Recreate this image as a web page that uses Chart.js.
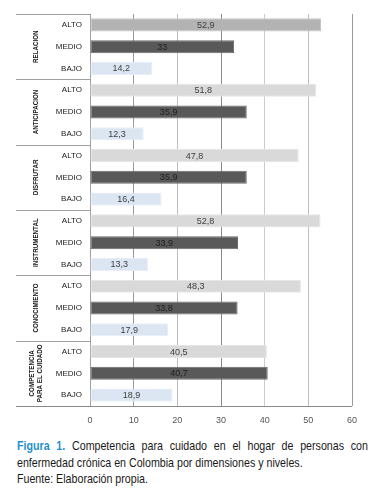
<!DOCTYPE html>
<html>
<head>
<meta charset="utf-8">
<script src="https://cdn.jsdelivr.net/npm/chart.js@4.4.1/dist/chart.umd.min.js"></script>
<style>
  html, body { margin: 0; padding: 0; background: #ffffff; }
  body { width: 371px; height: 502px; position: relative; overflow: hidden; }
  #wrap { position: absolute; left: 0; top: 0; width: 371px; height: 432px; }
  #caption {
    position: absolute; left: 17px; top: 438px; width: 428px;
    transform: scaleX(0.82); transform-origin: 0 0;
    font-family: "Liberation Sans", Arial, sans-serif;
    font-size: 13px; line-height: 16.5px; color: #1a1a1a; white-space: nowrap;
  }
  #caption .l1 { text-align: justify; text-align-last: justify; white-space: normal; }
  #caption b { color: #1f8fd0; }
</style>
</head>
<body>
<div id="wrap"><canvas id="c" width="371" height="432"></canvas></div>
<div id="caption">
  <div class="l1"><b>Figura 1.</b> Competencia para cuidado en el hogar de personas con</div>
  <div>enfermedad crónica en Colombia por dimensiones y niveles.</div>
  <div>Fuente: Elaboración propia.</div>
</div>
<script>
// ---- data ----
const groups = ["RELACION", "ANTICIPACION", "DISFRUTAR", "INSTRUMENTAL", "CONOCIMIENTO", ["COMPETENCIA", "PARA EL CUIDADO"]];
const levels = ["ALTO", "MEDIO", "BAJO"];
const altoValues  = [52.9, 51.8, 47.8, 52.8, 48.3, 40.5];
const medioValues = [33, 35.9, 35.9, 33.9, 33.8, 40.7];
const bajoValues  = [14.2, 12.3, 16.4, 13.3, 17.9, 18.9];
const xTicks = [0, 10, 20, 30, 40, 50, 60];

// ---- build flat structure ----
const labels = [], values = [], levelIdx = [], groupIdx = [];
groups.forEach((g, gi) => {
  const vals = [altoValues[gi], medioValues[gi], bajoValues[gi]];
  levels.forEach((lv, li) => {
    labels.push(lv); values.push(vals[li]); levelIdx.push(li); groupIdx.push(gi);
  });
});
const barColors = values.map((v, i) => {
  if (levelIdx[i] === 0) return groupIdx[i] === 0 ? '#b3b3b3' : '#d9d9d9';
  if (levelIdx[i] === 1) return '#595959';
  return '#dce6f2';
});
const borderColors = values.map((v, i) => {
  if (levelIdx[i] === 0) return groupIdx[i] === 0 ? '#c4c4c4' : '#e6e6e6';
  if (levelIdx[i] === 1) return '#6a6a6a';
  return '#e8eef7';
});
const gridColors = { 0: 'rgba(0,0,0,0)', 10: '#9a9a9a', 20: '#bdbdbd', 30: '#8a8a8a', 40: '#cccccc', 50: '#bdbdbd', 60: '#9a9a9a' };

const decor = {
  id: 'decor',
  afterDatasetsDraw(chart) {
    const ctx = chart.ctx;
    const meta = chart.getDatasetMeta(0);
    ctx.save();
    ctx.font = '9px "Liberation Sans", "DejaVu Sans", sans-serif';
    ctx.textAlign = 'center';
    ctx.textBaseline = 'middle';
    meta.data.forEach((el, i) => {
      const cx = (el.x + el.base) / 2;
      ctx.fillStyle = levelIdx[i] === 1 ? '#1e1e1e' : '#404040';
      ctx.fillText(String(values[i]).replace('.', ','), cx, el.y + 0.5);
    });
    ctx.restore();
  },
  afterDraw(chart) {
    const ctx = chart.ctx;
    const y = chart.scales.y;
    const area = chart.chartArea;
    const n = labels.length;
    const step = (y.getPixelForValue(1) - y.getPixelForValue(0));
    ctx.save();
    ctx.strokeStyle = '#a0a0a0';
    ctx.lineWidth = 1;
    for (let g = 0; g <= groups.length; g++) {
      const idx = g * 3;
      const py = Math.round(y.getPixelForValue(Math.min(idx, n - 1)) + (idx >= n ? step / 2 : -step / 2)) + 0.5;
      ctx.beginPath();
      ctx.moveTo(16, py);
      ctx.lineTo(area.left, py);
      ctx.stroke();
    }
    ctx.strokeStyle = '#8a8a8a';
    ctx.beginPath();
    ctx.moveTo(16, Math.round(area.bottom) + 0.5);
    ctx.lineTo(area.right, Math.round(area.bottom) + 0.5);
    ctx.stroke();
    // group labels
    ctx.fillStyle = '#1a1a1a';
    ctx.font = 'bold 8px "Liberation Sans", Arial, sans-serif';
    ctx.textAlign = 'center';
    ctx.textBaseline = 'middle';
    groups.forEach((g, gi) => {
      const cy = (y.getPixelForValue(gi * 3) + y.getPixelForValue(gi * 3 + 2)) / 2;
      const lines = Array.isArray(g) ? g : [g];
      const lh = 8;
      const cx0 = 36 - (lines.length - 1) * lh / 2;
      lines.forEach((t, li) => {
        ctx.save();
        ctx.translate(cx0 + li * lh, cy);
        ctx.rotate(-Math.PI / 2);
        ctx.scale(0.78, 1);
        ctx.fillText(t, 0, 0);
        ctx.restore();
      });
    });
    ctx.restore();
  }
};

new Chart(document.getElementById('c'), {
  type: 'bar',
  data: {
    labels: labels,
    datasets: [{
      data: values,
      backgroundColor: barColors,
      borderColor: borderColors,
      borderWidth: 1,
      borderSkipped: false,
      barPercentage: 0.6,
      categoryPercentage: 1.0
    }]
  },
  options: {
    indexAxis: 'y',
    responsive: false,
    animation: false,
    devicePixelRatio: 1,
    layout: { padding: { left: 0, right: 19, top: 14, bottom: 0 } },
    plugins: { legend: { display: false }, tooltip: { enabled: false }, title: { display: false } },
    scales: {
      x: {
        min: 0, max: 60,
        afterBuildTicks(scale) { scale.ticks = xTicks.map(v => ({ value: v })); },
        afterFit(scale) { scale.height = 26; },
        grid: {
          color: ctx => gridColors[ctx.tick ? ctx.tick.value : 0] || '#bdbdbd',
          drawTicks: false
        },
        border: { display: false },
        ticks: {
          color: '#555555', padding: 9,
          font: { family: '"Liberation Sans", "DejaVu Sans", sans-serif', size: 9 }
        }
      },
      y: {
        afterFit(scale) { scale.width = 90; },
        grid: { display: false, drawTicks: false },
        border: { display: true, color: '#a0a0a0' },
        ticks: {
          color: '#1a1a1a', padding: 8, autoSkip: false,
          font: { family: '"Liberation Sans", "DejaVu Sans", sans-serif', size: 8 }
        }
      }
    }
  },
  plugins: [decor]
});
</script>
</body>
</html>
